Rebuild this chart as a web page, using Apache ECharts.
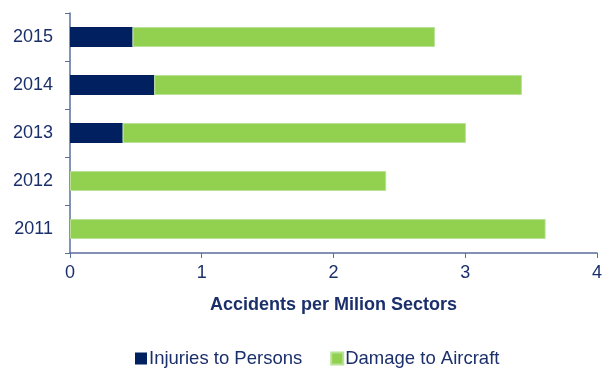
<!DOCTYPE html>
<html><head><meta charset="utf-8">
<script src="https://cdn.jsdelivr.net/npm/echarts@6/dist/echarts.min.js"></script>
<style>html,body{margin:0;padding:0;background:#fff}#c{width:605px;height:369px}</style>
</head><body><div id="c"></div>
<script>
const years = ['2011','2012','2013','2014','2015'];
const injuries = [0, 0, 0.40, 0.64, 0.475];
const damage = [3.61, 2.40, 2.605, 2.79, 2.295];
const xTicks = [0, 1, 2, 3, 4];
const textColor = '#1B2F6B';
const axisColor = '#5A6E9C';
const chart = echarts.init(document.getElementById('c'), null, {renderer:'canvas'});
chart.setOption({
  animation:false,
  textStyle:{fontFamily:'Liberation Sans, Arial, sans-serif'},
  grid:{left:70,right:7,top:13,bottom:116,containLabel:false},
  legend:{
    top:344,left:130,padding:5,itemWidth:12,itemHeight:12,itemGap:28,
    icon:'rect',
    textStyle:{color:textColor,fontSize:18.5,fontFamily:'Liberation Sans, Arial, sans-serif',padding:[0,0,0,-3]},
    data:['Injuries to Persons','Damage to Aircraft']
  },
  xAxis:{
    type:'value',min:xTicks[0],max:xTicks[xTicks.length-1],interval:1,
    name:'Accidents per Milion Sectors',nameLocation:'middle',nameGap:43,
    nameTextStyle:{color:textColor,fontSize:18,fontWeight:'bold'},
    axisLine:{show:true,lineStyle:{color:axisColor,width:1.5}},
    axisTick:{show:true,length:5,lineStyle:{color:axisColor}},
    axisLabel:{color:textColor,fontSize:18,margin:11},
    splitLine:{show:false}
  },
  yAxis:{
    type:'category',data:years,
    axisLine:{show:true,lineStyle:{color:axisColor,width:1.5}},
    axisTick:{show:true,length:5,lineStyle:{color:axisColor}},
    axisLabel:{color:textColor,fontSize:18,margin:17}
  },
  series:[
    {name:'Injuries to Persons',type:'bar',stack:'a',data:injuries,barWidth:20,
     itemStyle:{color:'#002060'}},
    {name:'Damage to Aircraft',type:'bar',stack:'a',data:damage,barWidth:20,
     itemStyle:{color:'#92D050',borderColor:'#B8E296',borderWidth:1}}
  ]
});
</script></body></html>
